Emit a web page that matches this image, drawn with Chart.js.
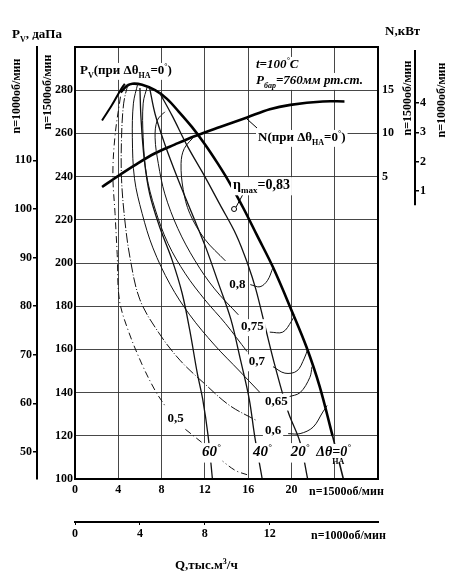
<!DOCTYPE html>
<html>
<head>
<meta charset="utf-8">
<script src="https://cdn.jsdelivr.net/npm/chart.js@4.4.0/dist/chart.umd.min.js"></script>
<style>
html, body { margin: 0; padding: 0; background: #fff; }
canvas { display: block; }
</style>
</head>
<body>
<canvas id="fanChart" width="463" height="584" style="width:463px;height:584px"></canvas>
<script>
// Tick labels (n = 1500 rpm is the main scale, n = 1000 rpm the secondary one)
const qTicks1500 = [0, 4, 8, 12, 16, 20, 24];
const qLabels1500 = [0, 4, 8, 12, 16, 20];
const qTicks1000 = [0, 4, 8, 12];
const pTicks1500 = [100, 120, 140, 160, 180, 200, 220, 240, 260, 280];
const pTicks1000 = [50, 60, 70, 80, 90, 100, 110];
const nTicks1500 = [5, 10, 15];
const nTicks1000 = [1, 2, 3, 4];

// Pv curve at guide vane angle 0 deg (thick) and its tail below 120
const q0 = [4.2, 4.8, 5.3, 6.2, 7.4, 8.5, 9.6, 10.8, 12.0, 13.2, 14.3, 15.6, 16.8, 18.3, 20.1, 21.4, 22.6, 23.8];
const p0 = [279, 282, 283, 282.5, 280, 276, 270, 263, 255, 246, 237, 225, 213, 198, 177, 161, 143, 120];
const q0Tail = [23.8, 24.8];
const p0Tail = [120, 100];

// surge boundary
const qSurge = [2.5, 3.4, 4.2, 4.6];
const pSurge = [266, 273, 280, 283];

// power N at 0 deg, kW (n=1500)
const qPower = [2.5, 3.9, 5.5, 7.4, 9.2, 11.1, 13.4, 15.9, 18.0, 19.9, 22.9, 24.9];
const nPower = [3.8, 5.0, 6.3, 7.7, 8.7, 9.7, 10.75, 11.85, 12.8, 13.3, 13.7, 13.7];

// guide vane curves 20, 40, 60 deg
const q20 = [7.8, 9.0, 10.4, 12.0, 13.4, 14.9, 16.0, 16.7, 17.5, 18.5, 19.7, 20.8, 21.5];
const p20 = [279, 268, 254, 240, 227, 213, 199, 188, 172, 152, 131, 117, 100];
const q40 = [6.9, 7.4, 8.3, 9.5, 10.8, 12.1, 13.3, 14.4, 15.3, 16.1, 16.6, 17.3];
const p40 = [281, 269, 255, 239, 223, 207, 190, 174, 155, 137, 120, 100];
const q60 = [6.0, 6.1, 6.4, 6.9, 7.8, 9.0, 9.9, 10.6, 11.3, 11.8, 12.3, 12.7];
const p60 = [281, 267, 248, 232, 217, 201, 186, 169, 149, 137, 120, 100];

// efficiency contours: long branch + hook ending on the 0 deg curve
const qEff80 = [11.1, 10.1, 9.8, 10.0, 10.6, 12.0, 13.9];
const pEff80 = [259, 253, 246, 234, 223, 211, 201];
const qHook80 = [16.2, 17.1, 17.8, 18.3];
const pHook80 = [190, 189, 192, 198];
const qEff75 = [8.3, 7.6, 7.4, 7.7, 8.3, 9.5, 11.1, 12.9, 15.1];
const pEff75 = [270, 266, 258, 246, 232, 216, 201, 188, 176];
const qHook75 = [18.0, 19.2, 20.0, 20.3];
const pHook75 = [168, 168, 173, 176];
const qEff70 = [6.7, 6.3, 6.3, 6.6, 7.4, 8.6, 10.2, 12.0, 13.9, 15.9];
const pEff70 = [282, 274, 258, 241, 225, 209, 195, 183, 172, 159];
const qHook70 = [18.3, 19.4, 20.5, 21.2, 21.5];
const pHook70 = [152, 149, 150, 156, 160];
const qEff65 = [5.8, 5.4, 5.3, 5.5, 6.2, 7.2, 8.8, 10.6, 12.9, 15.2, 17.1];
const pEff65 = [283, 274, 258, 239, 223, 207, 190, 176, 162, 150, 140];
const qHook65 = [19.7, 20.8, 21.7, 21.9];
const pHook65 = [138, 140, 147, 152];
const qEff60 = [4.9, 4.5, 4.3, 4.3, 4.6, 5.1, 6.0, 7.7, 9.7, 12.0, 14.3, 16.8];
const pEff60 = [283, 274, 258, 239, 220, 202, 183, 168, 155, 144, 134, 127];
const qHook60 = [19.7, 20.8, 22.0, 22.9, 23.3];
const pHook60 = [121, 121, 124, 131, 134];
const qEff50 = [4.2, 3.7, 3.5, 3.7, 3.9, 4.1, 4.9, 6.2, 7.4, 8.3];
const pEff50 = [277, 259, 241, 223, 204, 183, 169, 153, 141, 134];
const qEff50b = [10.2, 11.7];
const pEff50b = [123, 117];
const qEff50c = [13.2, 14.8, 15.9];
const pEff50c = [110, 104, 102];

// best efficiency point marker
const qBest = [14.7];
const pBest = [225];

const K = 1000 / 1500; // speed ratio for the secondary scales
const FONT = '"Liberation Serif", "DejaVu Serif", serif';
const tickFont = { family: FONT, size: 12, weight: 'bold' };

function curve(qs, ps, opts) {
    return Object.assign({
        data: qs.map((q, i) => ({ x: q, y: ps[i] })),
        showLine: true,
        pointRadius: 0,
        borderColor: '#111',
        borderWidth: 1,
        tension: 0.35,
        fill: false
    }, opts || {});
}

// draws a line of text made of normal / sub / sup pieces
function rich(c, x, y, parts, size, opt) {
    opt = opt || {};
    const style = (opt.italic ? 'italic ' : '') + 'bold ';
    let w = 0;
    const items = parts.map(p => {
        const t = Array.isArray(p) ? p[0] : p;
        const m = Array.isArray(p) ? p[1] : 'n';
        const fs = m === 'n' ? size : Math.round(size * 0.62);
        c.font = style + fs + 'px ' + FONT;
        const it = { t: t, fs: fs, x: w, dy: m === 'sub' ? size * 0.32 : (m === 'sup' ? -size * 0.42 : 0) };
        w += c.measureText(t).width;
        return it;
    });
    const x0 = opt.align === 'center' ? x - w / 2 : x;
    if (opt.bg) {
        c.fillStyle = '#fff';
        c.fillRect(x0 - 2, y - size * 0.85, w + 4, size * 1.3);
    }
    c.fillStyle = '#000';
    c.textAlign = 'left';
    c.textBaseline = 'alphabetic';
    items.forEach(it => {
        c.font = style + it.fs + 'px ' + FONT;
        c.fillText(it.t, x0 + it.x, y + it.dy);
    });
    return w;
}

function vtext(c, cx, cy, parts, size) {
    c.save();
    c.translate(cx, cy);
    c.rotate(-Math.PI / 2);
    rich(c, 0, size * 0.35, parts, size, { align: 'center' });
    c.restore();
}

const fanLabels = {
    id: 'fanLabels',
    afterDatasetsDraw(chart) {
        const c = chart.ctx;
        const xs = chart.scales.x, ys = chart.scales.y;
        const px = q => xs.getPixelForValue(q);
        const py = p => ys.getPixelForValue(p);

        c.save();
        // efficiency labels
        rich(c, px(15.0), py(190.7) + 5, ['0,8'], 13, { align: 'center', bg: true });
        rich(c, px(16.4), py(171.2) + 5, ['0,75'], 13, { align: 'center', bg: true });
        rich(c, px(16.8), py(154.9) + 5, ['0,7'], 13, { align: 'center', bg: true });
        rich(c, px(18.6), py(136.7) + 5, ['0,65'], 13, { align: 'center', bg: true });
        rich(c, px(18.3), py(123.3) + 5, ['0,6'], 13, { align: 'center', bg: true });
        rich(c, px(9.3), py(128.8) + 5, ['0,5'], 13, { align: 'center', bg: true });
        // guide vane angle labels
        rich(c, px(12.6), py(113.5) + 6, ['60', ['°', 'sup']], 15, { align: 'center', italic: true, bg: true });
        rich(c, px(17.3), py(113.5) + 6, ['40', ['°', 'sup']], 15, { align: 'center', italic: true, bg: true });
        rich(c, px(20.8), py(113.5) + 6, ['20', ['°', 'sup']], 15, { align: 'center', italic: true, bg: true });
        rich(c, px(22.3), py(113.5) + 6, ['Δθ=0', ['°', 'sup']], 14, { italic: true, bg: true });
        rich(c, px(22.3) + 16, py(113.5) + 14, ['НА'], 8, {});

        // best efficiency marker leader and label
        c.strokeStyle = '#000';
        c.lineWidth = 1;
        c.beginPath();
        c.moveTo(px(qBest[0]) + 2, py(pBest[0]) - 2);
        c.lineTo(px(15.8), py(234.4));
        c.stroke();
        rich(c, 233, 189, ['η', ['max', 'sub'], '=0,83'], 14, { bg: true });

        // N label with leader
        c.beginPath();
        c.moveTo(257, 128);
        c.lineTo(247, 119);
        c.stroke();
        rich(c, 258, 141, ['N(при Δθ', ['НА', 'sub'], '=0', ['°', 'sup'], ')'], 13, { bg: true });

        // Pv label
        rich(c, 80, 74, ['P', ['V', 'sub'], '(при Δθ', ['НА', 'sub'], '=0', ['°', 'sup'], ')'], 13, { bg: true });

        // operating conditions
        rich(c, 256, 68, ['t=100', ['°', 'sup'], 'C'], 13, { italic: true, bg: true });
        rich(c, 256, 84, ['P', ['бар', 'sub'], '=760мм рт.ст.'], 13, { italic: true, bg: true });
        c.restore();
    },
    afterDraw(chart) {
        const c = chart.ctx;
        const a = chart.chartArea;
        const s2 = chart.scales.yN2;
        c.save();
        // plot frame
        c.strokeStyle = '#000';
        c.lineWidth = 2;
        c.strokeRect(a.left, a.top, a.right - a.left, a.bottom - a.top);
        // short axis line for the n=1000 power scale
        c.beginPath();
        c.moveTo(s2.left, a.top + 3);
        c.lineTo(s2.left, s2.getPixelForValue(0.5));
        c.stroke();

        // axis titles
        rich(c, 12, 38, ['P', ['V', 'sub'], ', даПа'], 13, {});
        rich(c, 385, 35, ['N,кВт'], 13, {});
        vtext(c, 16, 96, ['n=1000об/мин'], 12);
        vtext(c, 47, 92, ['n=1500об/мин'], 12);
        vtext(c, 407, 98, ['n=1500об/мин'], 12);
        vtext(c, 441, 100, ['n=1000об/мин'], 12);
        rich(c, 309, 495, ['n=1500об/мин'], 12, {});
        rich(c, 311, 539, ['n=1000об/мин'], 12, {});
        rich(c, 175, 569, ['Q,тыс.м', ['3', 'sup'], '/ч'], 13, {});
        c.restore();
    }
};

const ctx = document.getElementById('fanChart').getContext('2d');
const fanChart = new Chart(ctx, {
    type: 'scatter',
    data: {
        datasets: [
            curve(qEff50, pEff50, { borderDash: [7, 3, 1, 3] }),
            curve(qEff50b, pEff50b, { borderDash: [7, 3, 1, 3] }),
            curve(qEff50c, pEff50c, { borderDash: [7, 3, 1, 3] }),
            curve(qEff60, pEff60, { borderDash: [10, 2, 1, 2] }),
            curve(qHook60, pHook60),
            curve(qEff65, pEff65),
            curve(qHook65, pHook65),
            curve(qEff70, pEff70),
            curve(qHook70, pHook70),
            curve(qEff75, pEff75),
            curve(qHook75, pHook75),
            curve(qEff80, pEff80),
            curve(qHook80, pHook80),
            curve(q60, p60, { borderWidth: 1.3 }),
            curve(q40, p40, { borderWidth: 1.3 }),
            curve(q20, p20, { borderWidth: 1.3 }),
            curve(q0Tail, p0Tail, { borderWidth: 1.6, tension: 0 }),
            curve(q0, p0, { borderWidth: 2.6, borderColor: '#000' }),
            curve(qSurge, pSurge, { borderWidth: 2, borderColor: '#000' }),
            curve(qPower, nPower, { borderWidth: 2.6, borderColor: '#000', yAxisID: 'yN' }),
            {
                data: qBest.map((q, i) => ({ x: q, y: pBest[i] })),
                pointRadius: 2.5,
                pointBackgroundColor: '#fff',
                pointBorderColor: '#000',
                pointBorderWidth: 1
            }
        ]
    },
    options: {
        responsive: false,
        animation: false,
        devicePixelRatio: 1,
        layout: { padding: { top: 47, bottom: 32, left: 0, right: 0 } },
        plugins: { legend: { display: false }, tooltip: { enabled: false } },
        scales: {
            x: {
                type: 'linear', position: 'bottom', weight: 0, min: 0, max: 28,
                afterBuildTicks: s => { s.ticks = qTicks1500.map(v => ({ value: v })); },
                afterFit: s => { s.height = 43; },
                ticks: {
                    color: '#000', font: tickFont, padding: 4, maxRotation: 0, autoSkip: false,
                    callback: v => qLabels1500.includes(v) ? v : ''
                },
                grid: { color: '#333', lineWidth: 0.9, drawTicks: false },
                border: { color: '#000', width: 2 }
            },
            x2: {
                type: 'linear', position: 'bottom', weight: 1, min: 0, max: 28 * K,
                afterBuildTicks: s => { s.ticks = qTicks1000.map(v => ({ value: v })); },
                afterFit: s => { s.height = 30; },
                ticks: { color: '#000', font: tickFont, padding: 2, maxRotation: 0, autoSkip: false },
                grid: { drawOnChartArea: false, drawTicks: true, tickLength: 3, color: '#000' },
                border: { color: '#000', width: 2 }
            },
            y: {
                type: 'linear', position: 'left', weight: 0, min: 100, max: 300,
                afterBuildTicks: s => { s.ticks = pTicks1500.map(v => ({ value: v })); },
                afterFit: s => { s.width = 38; },
                ticks: { color: '#000', font: tickFont, padding: 2, autoSkip: false },
                grid: { color: '#333', lineWidth: 0.9, drawTicks: false },
                border: { color: '#000', width: 2 }
            },
            y2: {
                type: 'linear', position: 'left', weight: 1, min: 100 * K * K, max: 300 * K * K,
                afterBuildTicks: s => { s.ticks = pTicks1000.map(v => ({ value: v })); },
                afterFit: s => { s.width = 37; },
                ticks: { color: '#000', font: tickFont, padding: 1, autoSkip: false },
                grid: { drawOnChartArea: false, drawTicks: true, tickLength: 4, color: '#000', lineWidth: 1.5 },
                border: { color: '#000', width: 2 }
            },
            yN: {
                type: 'linear', position: 'right', weight: 0, min: -30, max: 20,
                afterBuildTicks: s => { s.ticks = nTicks1500.map(v => ({ value: v })); },
                afterFit: s => { s.width = 37; },
                ticks: { color: '#000', font: tickFont, padding: 4, autoSkip: false },
                grid: { drawOnChartArea: false, drawTicks: false },
                border: { display: false }
            },
            yN2: {
                type: 'linear', position: 'right', weight: 1, min: -30 * K * K * K, max: 20 * K * K * K,
                afterBuildTicks: s => { s.ticks = nTicks1000.map(v => ({ value: v })); },
                afterFit: s => { s.width = 48; },
                ticks: { color: '#000', font: tickFont, padding: 1, autoSkip: false },
                grid: { drawOnChartArea: false, drawTicks: true, tickLength: 4, color: '#000', lineWidth: 1.5 },
                border: { display: false }
            }
        }
    },
    plugins: [fanLabels]
});
</script>
</body>
</html>
